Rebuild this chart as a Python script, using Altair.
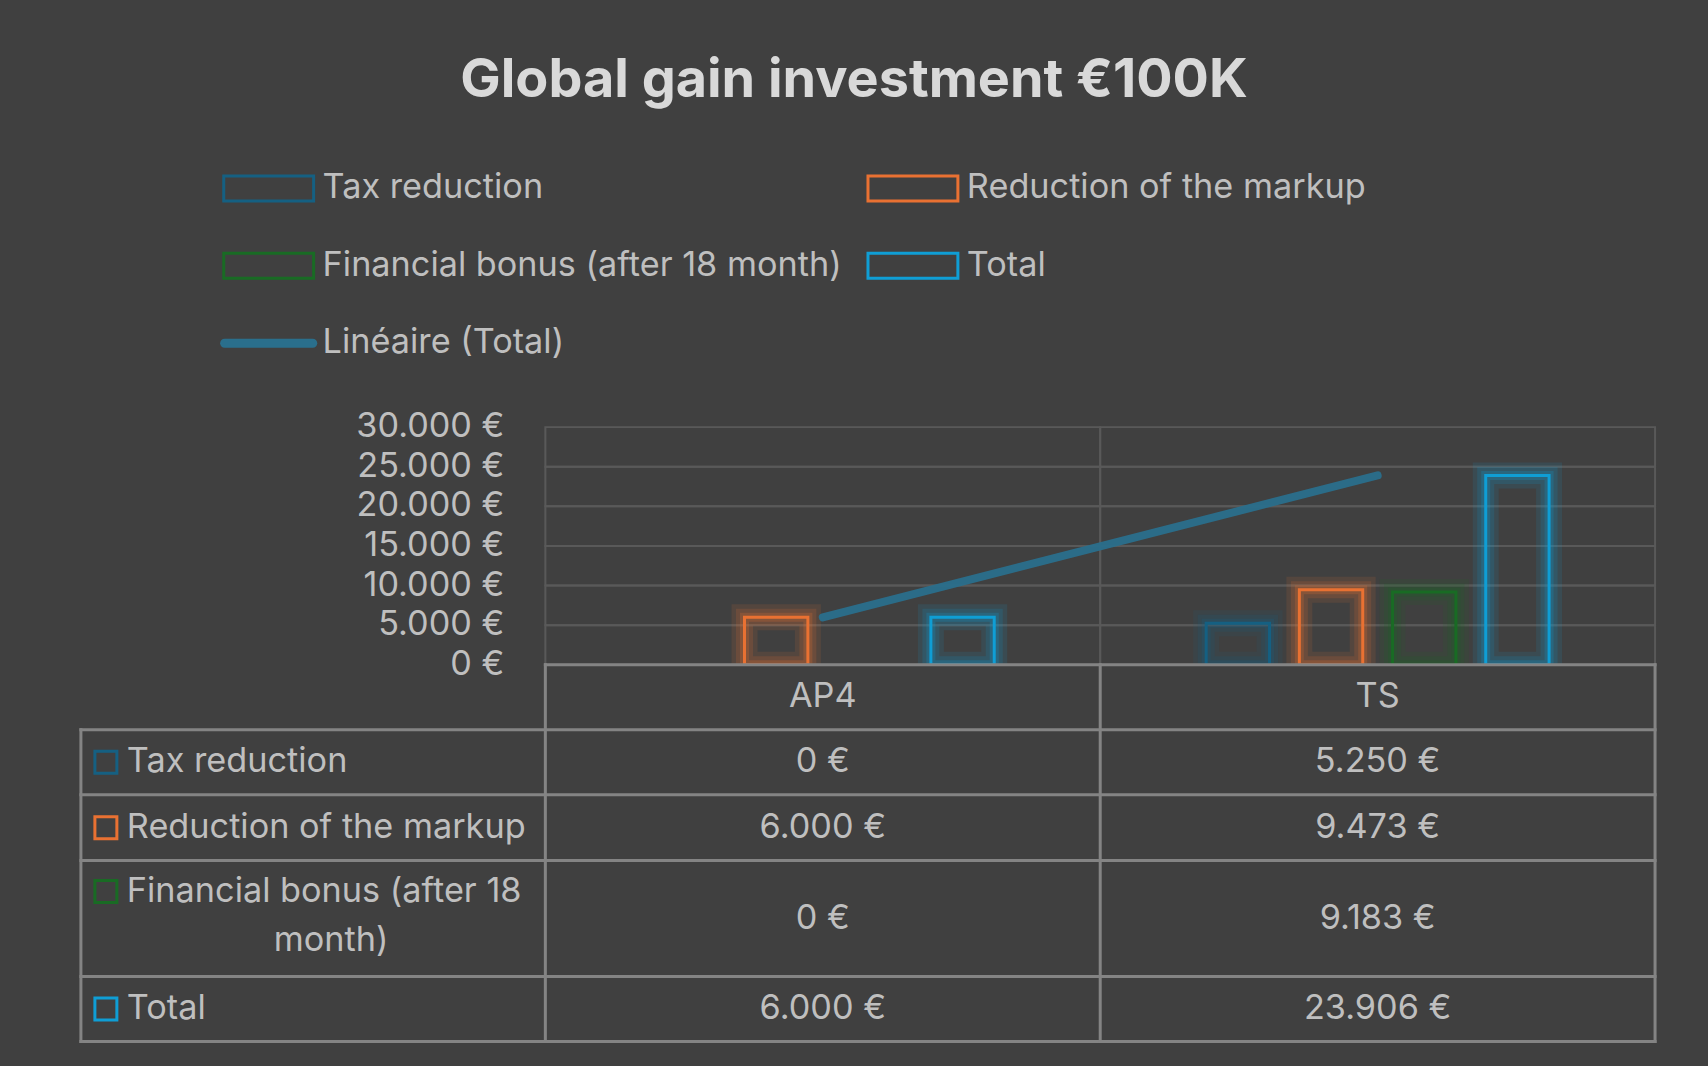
import textwrap
import altair as alt
import numpy as np
import pandas as pd

# ---------------- data ----------------
title = "Global gain investment €100K"
categories = ["AP4", "TS"]
series = ["Tax reduction", "Reduction of the markup",
          "Financial bonus (after 18 month)", "Total"]
tax_reduction = [0, 5250]
markup_reduction = [6000, 9473]
financial_bonus = [0, 9183]
total = [6000, 23906]
trend_name = "Linéaire (Total)"
y_ticks = [0, 5000, 10000, 15000, 20000, 25000, 30000]

# ---------------- style ----------------
colors = ["#156082", "#E97132", "#196B24", "#0F9ED5"]
trend_color = "#2A6F8C"
FONT = "Inter"
BG = "#404040"
TXT = "#BFBFBF"
TITLE_C = "#D9D9D9"
GRID = "#595959"
TLINE = "#848484"
FS = 34.3

FULL_W = 1576      # table width (label column + plot)
LABEL_W = 465      # label column width
PLOT_H = 238
LEG_H = 290
ROW_PX = [0, 65, 130, 196, 312, 377]
BAND_W = (FULL_W - LABEL_W) / 2
GROUP_W = 343.3


def euro(v):
    return f"{v:,}".replace(",", ".") + " €"


values = [tax_reduction, markup_reduction, financial_bonus, total]
long = pd.DataFrame([
    {"category": c, "series": s, "value": vals[j], "label": euro(vals[j]),
     "row": i + 1, "xc": j + 1.5, "yc": i + 1.5}
    for i, (s, vals) in enumerate(zip(series, values))
    for j, c in enumerate(categories)
])
bars_df = long[long.value > 0]

xs = np.arange(1, len(categories) + 1)
slope, icpt = np.polyfit(xs, total, 1)
trend_df = pd.DataFrame({"category": categories, "trend": slope * xs + icpt})

grid_df = pd.DataFrame([
    {"category": c, "y0": a, "y1": b}
    for c in categories for a, b in zip(y_ticks[:-1], y_ticks[1:])
])
ytick_df = pd.DataFrame({"value": y_ticks, "label": [euro(v) for v in y_ticks],
                         "category": categories[0]})

stroke_scale = alt.Scale(domain=series + [trend_name], range=colors + [trend_color])
txt_kw = dict(font=FONT, fontSize=FS, color=TXT, baseline="middle")

# ---------------- legend chart ----------------
legend_items = series + [trend_name]
leg_df = pd.DataFrame({"name": legend_items,
                       "col": [i % 2 for i in range(len(legend_items))],
                       "row": [i // 2 for i in range(len(legend_items))]})
lx = alt.Scale(domain=[0, 1], range=[143, 788], nice=False, zero=False)
ly = alt.Scale(domain=[0, 2], range=[51, 206], nice=False, zero=False)
rect_path = "M-1,-0.278H1V0.278H-1Z"
line_path = "M-0.98,-0.1H0.98A0.1,0.1 0 0 1 0.98,0.1H-0.98A0.1,0.1 0 0 1 -0.98,-0.1Z"
leg_enc = dict(x=alt.X("col:Q", scale=lx, axis=None), y=alt.Y("row:Q", scale=ly, axis=None))
leg_rects = alt.Chart(leg_df[leg_df.name != trend_name]).mark_point(
    shape=rect_path, size=8100, filled=False, strokeWidth=3, opacity=1, xOffset=45
).encode(stroke=alt.Stroke("name:N", scale=stroke_scale, legend=None), **leg_enc)
leg_line = alt.Chart(leg_df[leg_df.name == trend_name]).mark_point(
    shape=line_path, size=8100, filled=True, fill=trend_color, strokeWidth=0,
    opacity=1, xOffset=45
).encode(**leg_enc)
leg_text = alt.Chart(leg_df).mark_text(align="left", dx=99, **txt_kw).encode(
    text="name:N", **leg_enc)
legend_chart = alt.layer(leg_rects, leg_line, leg_text).properties(width=FULL_W, height=LEG_H)

# ---------------- plot chart ----------------
x_band = alt.Scale(domain=categories, range=[LABEL_W, FULL_W],
                   paddingInner=0, paddingOuter=0)
y_scale = alt.Scale(domain=[y_ticks[0], y_ticks[-1]], nice=False, zero=True)
off_scale = alt.Scale(domain=series, paddingInner=0.32, paddingOuter=0,
                      range=[(BAND_W - GROUP_W) / 2, (BAND_W + GROUP_W) / 2])
X_CAT = alt.X("category:N", scale=x_band, axis=None, sort=categories)

grid = alt.Chart(grid_df).mark_rect(fill="transparent", stroke=GRID, strokeWidth=2).encode(
    x=X_CAT, y=alt.Y("y0:Q", scale=y_scale, axis=None), y2="y1:Q")

ylabels = alt.Chart(ytick_df).mark_text(align="right", dx=-41, **txt_kw).encode(
    x=alt.X("category:N", scale=x_band, axis=None, sort=categories, bandPosition=0),
    y=alt.Y("value:Q", scale=y_scale, axis=None), text="label:N")


def bar_layer(sw, op):
    return alt.Chart(bars_df).mark_bar(fill="transparent", strokeWidth=sw,
                                       strokeOpacity=op, clip=True).encode(
        x=X_CAT,
        xOffset=alt.XOffset("series:N", scale=off_scale, sort=series),
        y=alt.Y("value:Q", scale=y_scale, axis=None),
        stroke=alt.Stroke("series:N", scale=stroke_scale, legend=None),
    )


glows = [bar_layer(26, 0.12), bar_layer(17, 0.16), bar_layer(9, 0.22)]
crisp = bar_layer(3, 1.0)

trend = alt.Chart(trend_df).mark_line(stroke=trend_color, strokeWidth=8,
                                      strokeCap="round", opacity=0.95).encode(
    x=X_CAT, y=alt.Y("trend:Q", scale=y_scale, axis=None))

top = alt.layer(grid, ylabels, *glows, crisp, trend).properties(width=FULL_W, height=PLOT_H)

# ---------------- table chart ----------------
n_cols = len(categories) + 1
n_rows = len(series) + 1
tx = alt.Scale(domain=list(range(n_cols + 1)),
               range=[0, LABEL_W, LABEL_W + BAND_W, FULL_W],
               nice=False, zero=False)
ty = alt.Scale(domain=list(range(n_rows + 1)), range=ROW_PX, nice=False, zero=False)

h_lines = pd.DataFrame([{"y": 0, "x0": 1, "x1": n_cols}] +
                       [{"y": r, "x0": 0, "x1": n_cols} for r in range(1, n_rows + 1)])
v_lines = pd.DataFrame([{"x": 0, "y0": 1, "y1": n_rows}] +
                       [{"x": c, "y0": 0, "y1": n_rows} for c in range(1, n_cols + 1)])

hl = alt.Chart(h_lines).mark_rule(stroke=TLINE, strokeWidth=3, strokeCap="square").encode(
    x=alt.X("x0:Q", scale=tx, axis=None), x2="x1:Q",
    y=alt.Y("y:Q", scale=ty, axis=None))
vl = alt.Chart(v_lines).mark_rule(stroke=TLINE, strokeWidth=3, strokeCap="square").encode(
    x=alt.X("x:Q", scale=tx, axis=None),
    y=alt.Y("y0:Q", scale=ty, axis=None), y2="y1:Q")

header_df = pd.DataFrame({"text": categories,
                          "xc": [j + 1.5 for j in range(len(categories))],
                          "yc": [0.5] * len(categories)})
header = alt.Chart(header_df).mark_text(align="center", **txt_kw).encode(
    x=alt.X("xc:Q", scale=tx, axis=None), y=alt.Y("yc:Q", scale=ty, axis=None), text="text:N")
cells = alt.Chart(long).mark_text(align="center", **txt_kw).encode(
    x=alt.X("xc:Q", scale=tx, axis=None), y=alt.Y("yc:Q", scale=ty, axis=None), text="label:N")

lab_rows = []
for i, s in enumerate(series):
    lines = textwrap.wrap(s, 25)
    lab_rows.append({"series": s, "first": lines[0], "rest": " ".join(lines[1:]),
                     "n": len(lines), "x0": 0, "xm": 0.5, "yc": i + 1.5})
lab_df = pd.DataFrame(lab_rows)
one = lab_df[lab_df.n == 1]
two = lab_df[lab_df.n > 1]

enc_first = dict(x=alt.X("x0:Q", scale=tx, axis=None), y=alt.Y("yc:Q", scale=ty, axis=None),
                 text="first:N")
lab1 = alt.Chart(one).mark_text(align="left", dx=46, **txt_kw).encode(**enc_first)
lab2a = alt.Chart(two).mark_text(align="left", dx=46, dy=-27, **txt_kw).encode(**enc_first)
lab2b = alt.Chart(two).mark_text(align="center", dx=18, dy=22, **txt_kw).encode(
    x=alt.X("xm:Q", scale=tx, axis=None), y=alt.Y("yc:Q", scale=ty, axis=None), text="rest:N")


def keys(df, yoff):
    return alt.Chart(df).mark_point(shape="square", filled=False, size=484, strokeWidth=3,
                                    opacity=1, xOffset=25, yOffset=yoff).encode(
        x=alt.X("x0:Q", scale=tx, axis=None), y=alt.Y("yc:Q", scale=ty, axis=None),
        stroke=alt.Stroke("series:N", scale=stroke_scale, legend=None))


table = alt.layer(hl, vl, header, cells, lab1, lab2a, lab2b, keys(one, 0), keys(two, -27)
                  ).properties(width=FULL_W, height=ROW_PX[-1])

chart = alt.vconcat(legend_chart, top, table, spacing=0, bounds="flush").resolve_scale(
    stroke="independent").properties(
    title=alt.TitleParams(title, font=FONT, fontSize=54, fontWeight="bold", color=TITLE_C,
                          anchor="middle", dx=-14, offset=30),
    padding={"left": 78, "top": 53, "right": 50, "bottom": 24},
).configure(background=BG).configure_view(stroke=None)

chart.save("out.html", embed_options={"renderer": "svg", "actions": False})
